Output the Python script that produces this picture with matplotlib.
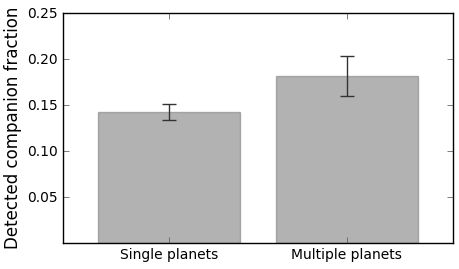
import matplotlib.pyplot as plt
import numpy as np

# Data
categories = ["Single planets", "Multiple planets"]
fractions = [0.1425, 0.1815]
errors = [0.0085, 0.0215]
yticks = [0.05, 0.10, 0.15, 0.20, 0.25]

fig = plt.figure(figsize=(4.6, 2.69), dpi=100)
ax = fig.add_axes([0.137, 0.097, 0.848, 0.855])

x = np.arange(len(categories))
ax.bar(x, fractions, width=0.8, color="gray", alpha=0.6, edgecolor="gray",
       linewidth=1, yerr=errors, capsize=5,
       error_kw=dict(ecolor="#333333", elinewidth=1, capthick=1))

ax.set_xlim(-0.6, 1.6)
ax.set_ylim(0, 0.25)
ax.set_xticks(x)
ax.set_xticklabels(categories, fontsize=10)
ax.set_yticks(yticks)
ax.set_yticklabels(["%.2f" % t for t in yticks], fontsize=10)
ax.tick_params(direction="in", top=True, right=True, length=4, width=0.6,
               color="#666666")
ax.set_ylabel("Detected companion fraction", fontsize=12)
for s in ax.spines.values():
    s.set_linewidth(1)

fig.savefig("out.png", dpi=100)
